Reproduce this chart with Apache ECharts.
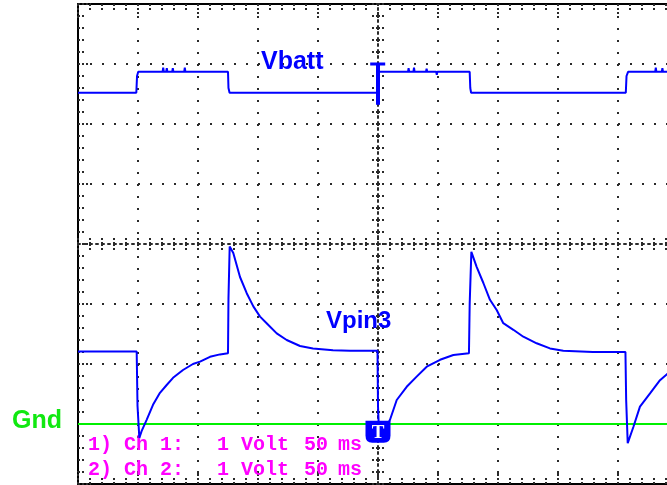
<!DOCTYPE html>
<html><head><meta charset="utf-8">
<script src="https://cdn.jsdelivr.net/npm/echarts@6/dist/echarts.min.js"></script>
<style>html,body{margin:0;padding:0;background:#fff;overflow:hidden}#c{width:667px;height:485px}</style>
</head><body><div id="c"></div>
<script>
// Scope settings: 50 ms/div horizontally, 1 V/div vertically, Gnd = 0 V
const timeMin = 0, timeMax = 500, timeStep = 50;
const voltMin = -1, voltMax = 7, voltStep = 1;
const gndLevel = 0;
const triggerTime = 250;

// Channel traces: [time ms, volts]
const vbattPoints = [
  [0,5.52],[48.6,5.52],[49.2,5.80],[50.2,5.87],[70.5,5.87],[71,5.94],[71.5,5.87],
  [73.5,5.87],[74,5.93],[74.5,5.87],[78.5,5.87],[79,5.93],[79.5,5.87],[88.5,5.87],
  [89,5.94],[89.5,5.87],[125,5.87],[125.4,5.60],[126.3,5.52],[249.4,5.52],[249.9,5.87],
  [275,5.87],[275.5,5.93],[276,5.87],[279.5,5.87],[280,5.94],[280.5,5.87],[290,5.87],
  [290.5,5.92],[291,5.87],[298.5,5.87],[299,5.82],[299.5,5.87],[326.4,5.87],[326.9,5.60],
  [327.6,5.52],[456.5,5.52],[457.1,5.80],[458.4,5.87],[481,5.87],[481.5,5.94],[482,5.87],
  [486.5,5.87],[487,5.93],[487.5,5.87],[500,5.87]
];
const vpin3Points = [
  [0,1.21],[48.9,1.21],[49.6,0.3],[51.1,-0.23],[53,-0.12],[57.2,0.07],[62.5,0.32],[68.3,0.52],
  [73.9,0.65],[79.2,0.77],[87.5,0.9],[95.8,1.0],[101.7,1.04],[110,1.12],[118.3,1.16],
  [125.0,1.18],[125.4,2.1],[126.4,2.96],[129.4,2.85],[135,2.45],[140.6,2.18],[146.1,1.96],
  [151.7,1.79],[157.2,1.68],[165.6,1.51],[173.9,1.40],[185,1.30],[195.8,1.26],[212.5,1.23],
  [226.7,1.22],[249.6,1.22],[250.0,0.3],[251.0,-0.25],[255,-0.12],[260,0.07],[265.6,0.40],
  [273.9,0.62],[282.2,0.79],[290.6,0.955],[301.7,1.07],[312.8,1.15],[325.8,1.18],[326.4,2.0],
  [327.8,2.87],[332.2,2.62],[337.8,2.35],[343.3,2.07],[348.9,1.90],[354.4,1.68],[362.8,1.57],
  [371.1,1.455],[382.2,1.345],[393.3,1.26],[404.4,1.22],[429,1.2],[456.2,1.2],[456.8,0.4],
  [458.1,-0.32],[462.8,-0.05],[468.3,0.29],[476.7,0.51],[485,0.73],[490.8,0.83],[500,0.95]
];
const triggerStem = [[triggerTime,5.32],[triggerTime,6.0]];
const triggerBar = [[243.5,6.0],[256,6.0]];
const gndLine = [[timeMin,gndLevel],[timeMax,gndLevel]];
const triggerMarker = [[triggerTime, -0.13]];

const channelLabels = ['1) Ch 1:', '2) Ch 2:'];
const voltLabel = '1 Volt';
const timeLabel = ['50', 'ms'];

const BLUE = '#0000ff', GREEN = '#00f000', MAGENTA = '#ff00ff', DOT = '#2a2a2a';

function axisBase(extra) {
  return Object.assign({
    type: 'value',
    axisLabel: { show: false },
    splitLine: { show: false },
    minorSplitLine: { show: false }
  }, extra);
}
const dottedTick = (len, inside) => ({ show: true, inside: inside, length: len, lineStyle: { color: DOT, width: 2, type: [2, 2] } });
const dottedMinor = (len) => ({ show: true, splitNumber: 5, length: len, lineStyle: { color: DOT, width: 2, type: [2, 2] } });
const gridDots = { show: true, lineStyle: { color: DOT, width: 2, type: [2, 10] } };
const border = { show: true, onZero: false, lineStyle: { color: '#000', width: 2 } };
const crossLine = { show: true, onZero: false, lineStyle: { color: DOT, width: 2, type: [2, 4] } };

const xCommon = { min: timeMin, max: timeMax, interval: timeStep };
const yCommon = { min: voltMin, max: voltMax, interval: voltStep };

const chart = echarts.init(document.getElementById('c'), null, { renderer: 'canvas' });
chart.setOption({
  animation: false,
  backgroundColor: '#fff',
  grid: { left: 78, top: 4, width: 600, height: 480, outerBoundsMode: 'none', containLabel: false },
  xAxis: [
    axisBase(Object.assign({ position: 'bottom', axisLine: border, axisTick: dottedTick(13, true), minorTick: dottedMinor(6), splitLine: gridDots }, xCommon)),
    axisBase(Object.assign({ position: 'top', axisLine: border, axisTick: dottedTick(14, true), minorTick: dottedMinor(6) }, xCommon)),
    axisBase(Object.assign({ position: 'bottom', offset: -240, axisLine: crossLine, axisTick: dottedTick(6, true), minorTick: dottedMinor(6) }, xCommon)),
    axisBase(Object.assign({ position: 'bottom', offset: -240, axisLine: { show: false, onZero: false }, axisTick: dottedTick(6, false), minorTick: dottedMinor(6) }, xCommon))
  ],
  yAxis: [
    axisBase(Object.assign({ position: 'left', axisLine: border, axisTick: dottedTick(13, true), minorTick: dottedMinor(6), splitLine: gridDots }, yCommon)),
    axisBase(Object.assign({ position: 'left', offset: -300, axisLine: crossLine, axisTick: dottedTick(7, true), minorTick: dottedMinor(7) }, yCommon)),
    axisBase(Object.assign({ position: 'left', offset: -300, axisLine: { show: false, onZero: false }, axisTick: dottedTick(7, false), minorTick: dottedMinor(7) }, yCommon))
  ],
  graphic: [
    { type: 'text', x: 261, y: 62, z: 10, style: { text: 'Vbatt', fill: BLUE, font: 'bold 25px "Liberation Sans", Arial, sans-serif', align: 'left', verticalAlign: 'middle', textAlign: 'left', textVerticalAlign: 'middle' } },
    { type: 'text', x: 326, y: 321.5, z: 10, style: { text: 'Vpin3', fill: BLUE, font: 'bold 24px "Liberation Sans", Arial, sans-serif', align: 'left', verticalAlign: 'middle', textAlign: 'left', textVerticalAlign: 'middle' } },
    { type: 'text', x: 12, y: 421, z: 10, style: { text: 'Gnd', fill: '#11e811', font: 'bold 25px "Liberation Sans", Arial, sans-serif', align: 'left', verticalAlign: 'middle', textAlign: 'left', textVerticalAlign: 'middle' } },
    ...channelLabels.flatMap((lab, i) => {
      const y = 444.5 + i * 25;
      const st = (t) => ({ text: t, fill: MAGENTA, font: 'bold 20px "Liberation Mono", "Courier New", monospace', align: 'left', verticalAlign: 'middle', textAlign: 'left', textVerticalAlign: 'middle' });
      return [
        { type: 'text', x: 88, y: y, z: 10, style: st(lab) },
        { type: 'text', x: 217, y: y, z: 10, style: st(voltLabel) },
        { type: 'text', x: 304, y: y, z: 10, style: st(timeLabel[0]) },
        { type: 'text', x: 338, y: y, z: 10, style: st(timeLabel[1]) }
      ];
    })
  ],
  series: [
    { name: 'Gnd', type: 'line', data: gndLine, symbol: 'none', lineStyle: { color: GREEN, width: 2 }, z: 20 },
    { name: 'Vbatt', type: 'line', data: vbattPoints, symbol: 'none', lineStyle: { color: BLUE, width: 2 }, z: 21 },
    { name: 'TrigStem', type: 'line', data: triggerStem, symbol: 'none', lineStyle: { color: BLUE, width: 4 }, z: 21 },
    { name: 'TrigBar', type: 'line', data: triggerBar, symbol: 'none', lineStyle: { color: BLUE, width: 3 }, z: 21 },
    { name: 'Vpin3', type: 'line', data: vpin3Points, symbol: 'none', lineStyle: { color: BLUE, width: 2 }, z: 21 },
    { name: 'TrigMarker', type: 'scatter', data: triggerMarker, z: 25,
      symbol: 'path://M0,0L26,0L26,14Q26,21 19,21L7,21Q0,21 0,14Z',
      symbolSize: [25, 22],
      itemStyle: { color: BLUE, opacity: 1 },
      label: { show: true, position: 'inside', formatter: 'T', color: '#ffffff', fontSize: 19, fontWeight: 'bold', fontFamily: '"Liberation Serif", serif', offset: [0, 1] }
    }
  ]
});
</script></body></html>
